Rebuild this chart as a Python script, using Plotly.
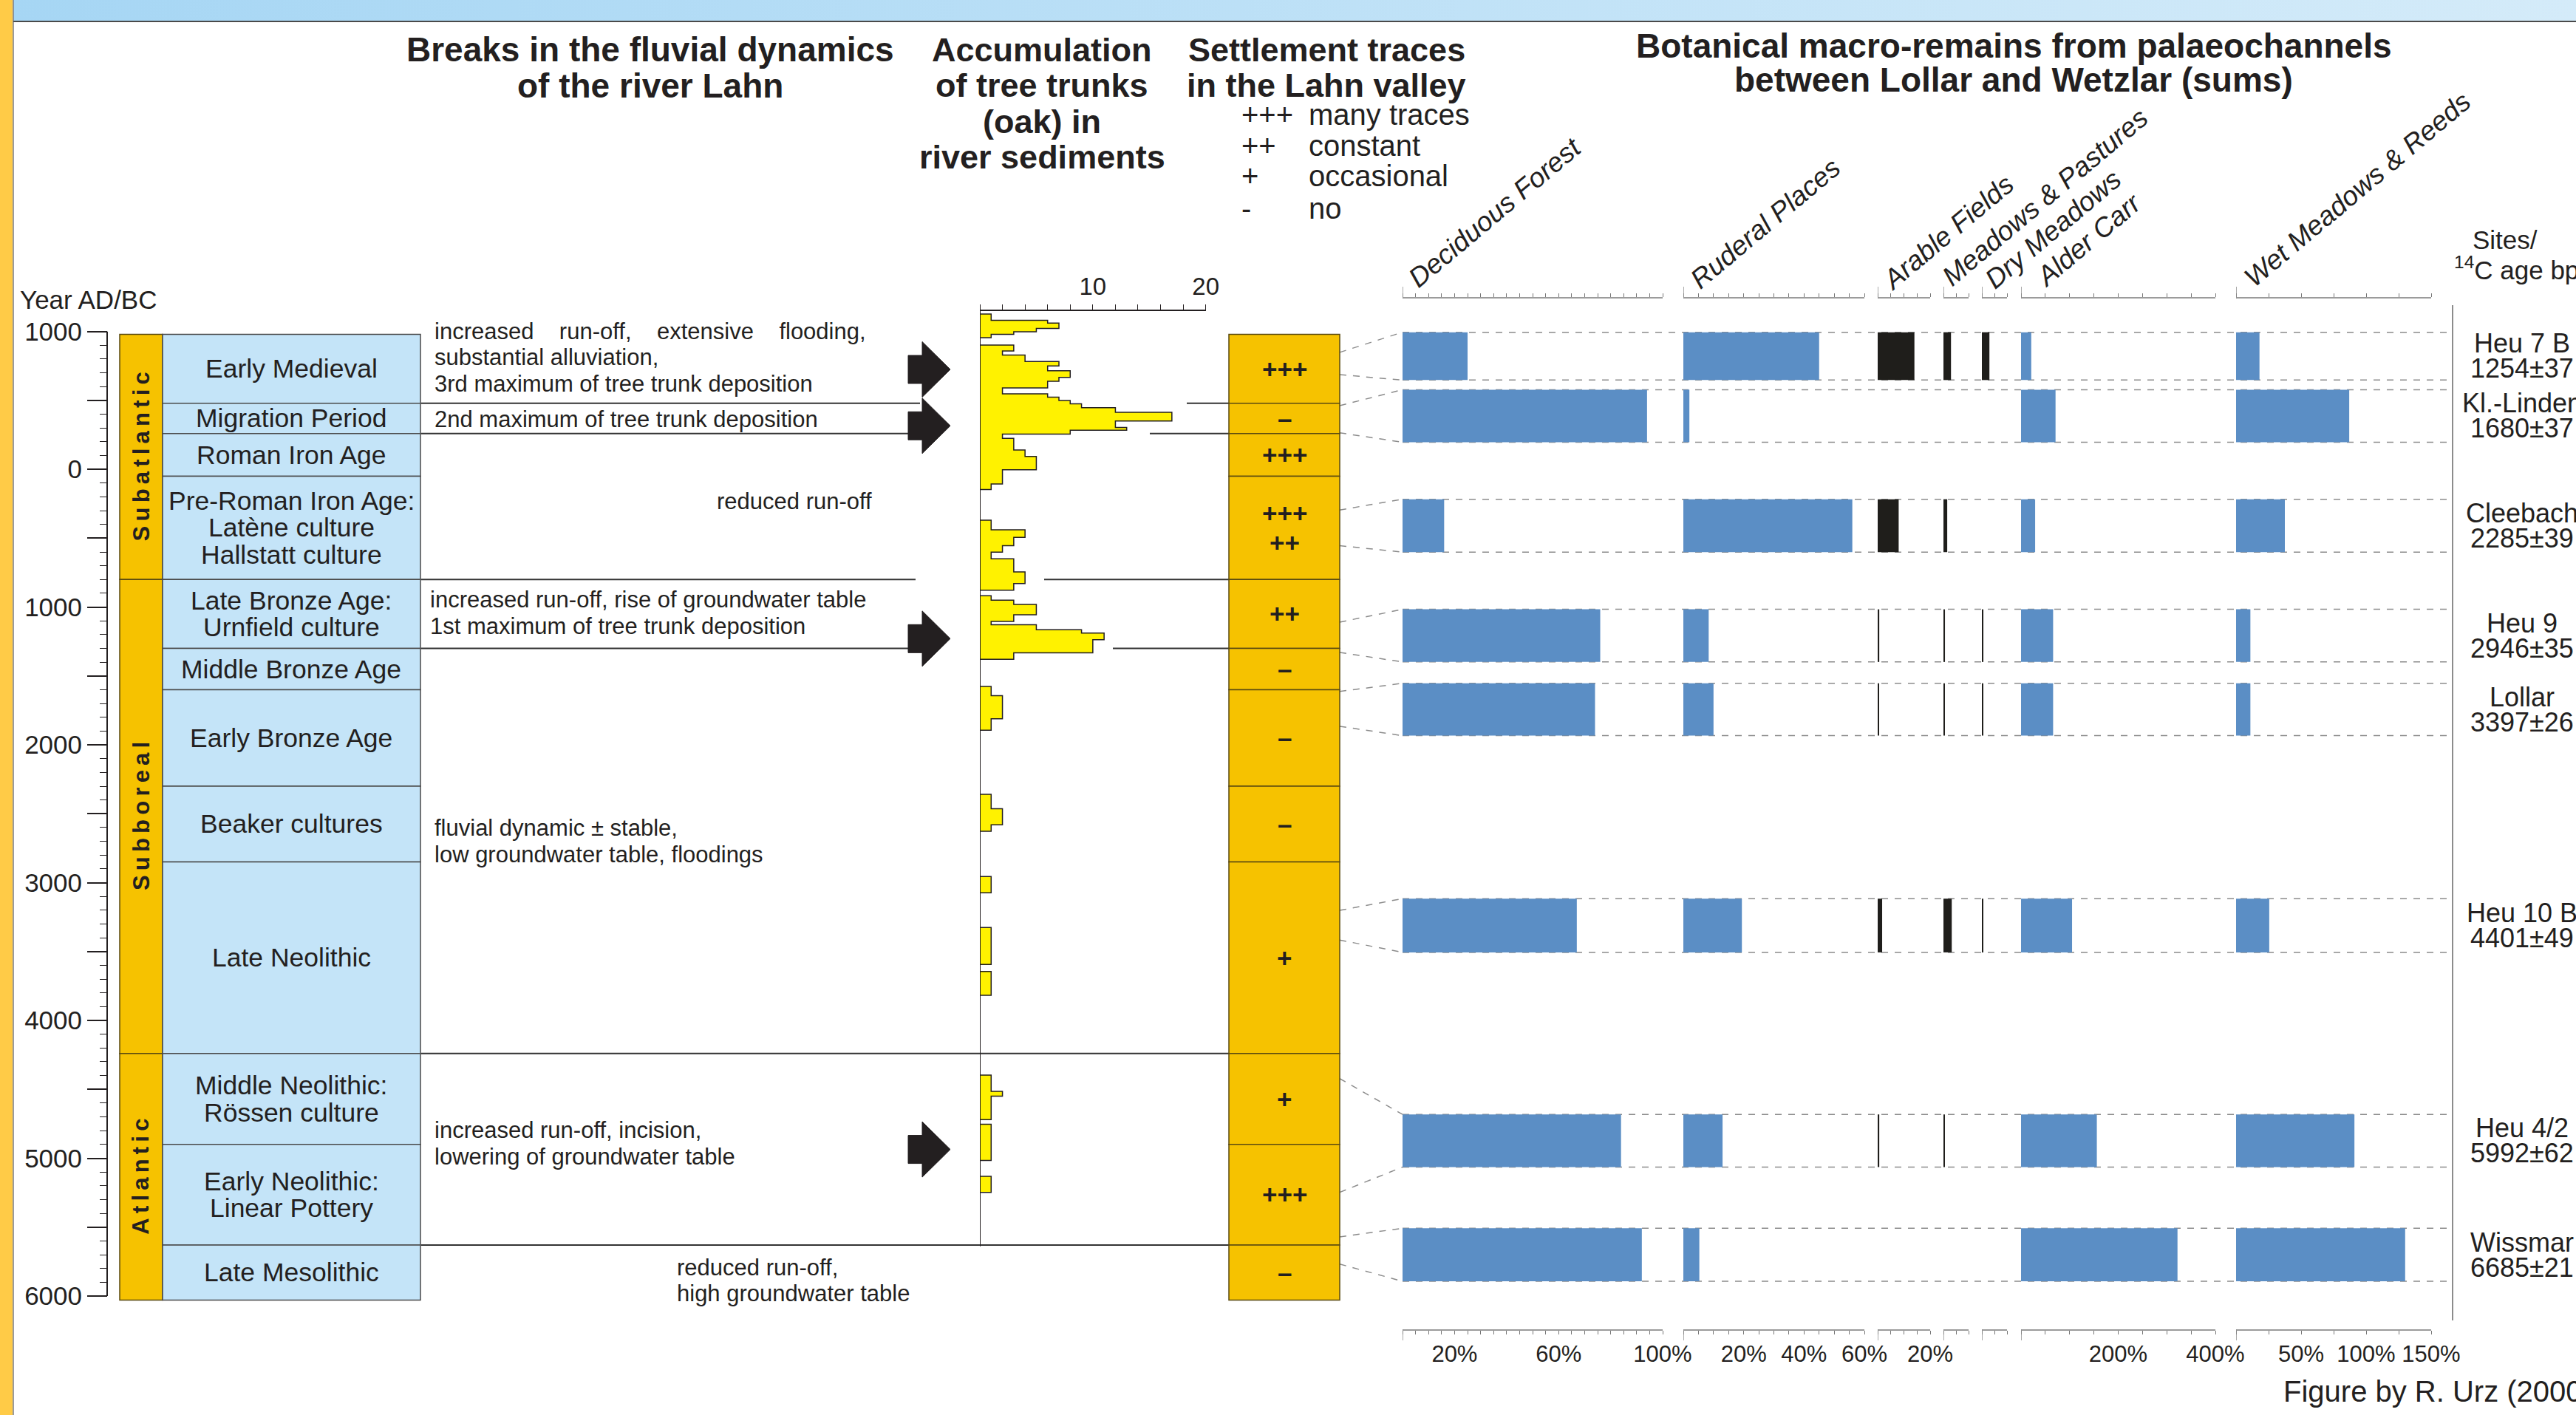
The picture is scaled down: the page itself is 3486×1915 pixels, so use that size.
import plotly.graph_objects as go

W, H = 3486, 1915
FONT = "Liberation Sans, Arial, Helvetica, sans-serif"
INK = "#231F20"
BLUE_BAR = "#5B8EC5"
DARK_BAR = "#1F1E1B"
ORANGE = "#F6C200"
PALE_BLUE = "#C4E4F8"
TRUNK_YELLOW = "#FFF200"

# ------------------------------------------------------------------ data
year_major = [1000, 500, 0, -500, -1000, -1500, -2000, -2500, -3000, -3500,
              -4000, -4500, -5000, -5500, -6000]
year_major_labels = ["1000", "", "0", "", "1000", "", "2000", "", "3000", "",
                     "4000", "", "5000", "", "6000"]

epochs = ["Subatlantic", "Subboreal", "Atlantic"]
epoch_bounds = [980, -800, -4240, -6030]

periods = ["Early Medieval", "Migration Period", "Roman Iron Age",
           "Pre-Roman Iron Age:\nLatène culture\nHallstatt culture",
           "Late Bronze Age:\nUrnfield culture", "Middle Bronze Age",
           "Early Bronze Age", "Beaker cultures", "Late Neolithic",
           "Middle Neolithic:\nRössen culture",
           "Early Neolithic:\nLinear Pottery", "Late Mesolithic"]
period_bounds = [980, 480, 260, -50, -800, -1300, -1600, -2300, -2850,
                 -4240, -4900, -5630, -6030]

settlement_marks = ["+++", "–", "+++", "+++\n++", "++", "–", "–", "–",
                    "+", "+", "+++", "–"]
settlement_bounds = [980, 480, 260, -50, -800, -1300, -1600, -2300, -2850,
                     -4240, -4900, -5630, -6030]
settlement_legend_symbols = ["+++", "++", "+", "-"]
settlement_legend_texts = ["many traces", "constant", "occasional", "no"]

break_years = [480, 260, -800, -1300, -4240, -5630]
arrow_years = [725, 316, -1229, -4936]
GAP = "\u00a0" * 4
break_notes = [f"increased{GAP}run-off,{GAP}extensive{GAP}flooding,\nsubstantial alluviation,\n3rd maximum of tree trunk deposition",
               "2nd maximum of tree trunk deposition",
               "reduced run-off",
               "increased run-off, rise of groundwater table\n1st maximum of tree trunk deposition",
               "fluvial dynamic ± stable,\nlow groundwater table, floodings",
               "increased run-off, incision,\nlowering of groundwater table",
               "reduced run-off,\nhigh groundwater table"]
break_note_years = [813, 361, -230, -1042, -2699, -4893, -5888]

# oak trunks (counts) per time slice
trunk_top = [1127, 1082, 1062, 1022, 998, 979,
             902, 859, 830, 782, 751, 715, 667, 639, 591, 548, 524, 500, 476,
             447, 414, 351, 304, 284, 256, 225, 141, 93, -3, -106,
             -369, -439, -494, -554, -601, -649, -745, -829,
             -917, -949, -980, -1056, -1104, -1128, -1164, -1188, -1236, -1332,
             -1576, -1643, -1810,
             -2359, -2463, -2580,
             -2955, -3325, -3645,
             -4397, -4515, -4550,
             -4753, -5131]
trunk_bottom = [1082, 1062, 1022, 998, 979, 955,
                859, 830, 782, 751, 715, 667, 639, 591, 548, 524, 500, 476, 447,
                414, 351, 304, 284, 256, 225, 141, 93, -3, -106, -146,
                -439, -494, -554, -601, -649, -745, -829, -877,
                -949, -980, -1056, -1104, -1128, -1164, -1188, -1236, -1332, -1379,
                -1643, -1810, -1894,
                -2463, -2580, -2627,
                -3073, -3593, -3817,
                -4515, -4550, -4720,
                -5016, -5248]
trunk_count = [1, 6, 7, 5, 3, 1,
               3, 2, 4, 7, 6, 8, 7, 6, 2, 6, 7, 8, 9, 12, 17, 12, 13, 8, 2, 3, 4, 5, 2, 1,
               1, 4, 3, 2, 1, 3, 4, 3,
               1, 3, 5, 3, 1, 5, 9, 11, 10, 3,
               1, 2, 1,
               1, 2, 1,
               1, 1, 1,
               1, 2, 1,
               1, 1]
trunk_ticks = [0, 2, 4, 6, 8, 10, 12, 14, 16, 18, 20]
trunk_tick_labels = ["", "", "", "", "", "10", "", "", "", "", "20"]

sites = ["Heu 7 B", "Kl.-Linden", "Cleebach", "Heu 9", "Lollar",
         "Heu 10 B", "Heu 4/2", "Wissmar"]
c14_ages = ["1254±37", "1680±37", "2285±39", "2946±35", "3397±26",
            "4401±49", "5992±62", "6685±21"]
band_top = [995, 578, -217, -1016, -1553, -3116, -4682, -5508]
band_bottom = [648, 197, -601, -1398, -1933, -3506, -5064, -5893]
cal_top = [849, 462, -295, -1109, -1612, -3201, -4422, -5571]
cal_bottom = [687, 265, -554, -1329, -1865, -3416, -5247, -5768]

deciduous_forest = [25, 94, 16, 76, 74, 67, 84, 92]
ruderal_places = [45, 2, 56, 8.4, 10, 19.4, 13, 5.3]
arable_fields = [14, 0, 8, 0.6, 0.5, 1.7, 0.6, 0]
meadows_pastures = [3, 0, 1.5, 0.6, 0.5, 3.3, 0.5, 0]
dry_meadows = [3, 0, 0, 0.6, 0.5, 0.5, 0, 0]
alder_carr = [21, 71, 29, 66, 66, 105, 156, 322]
wet_meadows_reeds = [18, 87, 37.5, 11, 11, 25.5, 91, 130]

panel_names = ["Deciduous Forest", "Ruderal Places", "Arable Fields",
               "Meadows & Pastures", "Dry Meadows", "Alder Carr",
               "Wet Meadows & Reeds"]
panel_values = [deciduous_forest, ruderal_places, arable_fields,
                meadows_pastures, dry_meadows, alder_carr, wet_meadows_reeds]
panel_max = [100, 60, 20, 10, 10, 400, 150]
panel_tick_step = [5, 5, 5, 5, 5, 50, 25]
panel_labelled = [[20, 60, 100], [20, 40, 60], [20], [], [], [200, 400],
                  [50, 100, 150]]

# ------------------------------------------------------------------ layout helpers
YEAR_REF, PX_REF, PX_PER_YEAR = 1000, 448.7, 0.18647


def px_to_year(p):
    return YEAR_REF - (p - PX_REF) / PX_PER_YEAR


def pyp(p):
    return 1 - p / H


def pxp(p):
    return p / W


shapes = []
annotations = []


def add_text(s, x, y, size, xref="paper", yref="paper", xanchor="center",
             yanchor="middle", bold=False, italic=False, angle=0, color=INK,
             spacing=None):
    lines = s.split("\n")
    n = len(lines)
    sp = spacing if spacing is not None else size * 1.1
    for i, ln in enumerate(lines):
        t = ln
        if bold:
            t = f"<b>{t}</b>"
        if italic:
            t = f"<i>{t}</i>"
        annotations.append(dict(text=t, x=x, y=y, xref=xref, yref=yref,
                                xanchor=xanchor, yanchor=yanchor,
                                showarrow=False, textangle=angle,
                                yshift=((n - 1) / 2 - i) * sp,
                                font=dict(family=FONT, size=size, color=color)))


def text_px(s, xp, ypx, size, **kw):
    add_text(s, pxp(xp), pyp(ypx), size, **kw)


def rect(x0, x1, y0, y1, fill, line="#4a4a4a", lw=1.5, xref="x", yref="y",
         layer="above"):
    shapes.append(dict(type="rect", xref=xref, yref=yref, x0=x0, x1=x1,
                       y0=y0, y1=y1, fillcolor=fill, layer=layer,
                       line=dict(color=line, width=lw)))


def line(x0, y0, x1, y1, color=INK, lw=2, dash="solid", xref="x", yref="y",
         layer="above"):
    shapes.append(dict(type="line", xref=xref, yref=yref, x0=x0, y0=y0,
                       x1=x1, y1=y1, layer=layer,
                       line=dict(color=color, width=lw, dash=dash)))


fig = go.Figure()

# ------------------------------------------------------------------ frame / banner
fig.add_trace(go.Scatter(
    x=[18, W, W, 18, 18],
    y=[px_to_year(0), px_to_year(0), px_to_year(29), px_to_year(29), px_to_year(0)],
    mode="lines", fill="toself", line=dict(width=0),
    fillgradient=dict(type="horizontal",
                      colorscale=[[0, "#A6D6F4"], [1, "#D4EBF9"]]),
    hoverinfo="skip", xaxis="x", yaxis="y"))
rect(0, pxp(17), 0, 1, "#FFCB47", line="#FFCB47", lw=0, xref="paper", yref="paper")
line(pxp(18), 0, pxp(18), 1, color="#7a7a7a", lw=1.5, xref="paper", yref="paper")
line(pxp(18), pyp(29), 1, pyp(29), color="#4a4a4a", lw=2, xref="paper", yref="paper")

# ------------------------------------------------------------------ titles
text_px("Breaks in the fluvial dynamics", 880, 67, 46, bold=True)
text_px("of the river Lahn", 880, 116, 46, bold=True)
for i, t in enumerate(["Accumulation", "of tree trunks", "(oak) in", "river sediments"]):
    text_px(t, 1410, [67, 116, 165, 213][i], 45, bold=True)
text_px("Settlement traces", 1795, 67, 45, bold=True)
text_px("in the Lahn valley", 1795, 116, 45, bold=True)
text_px("Botanical macro-remains from palaeochannels", 2725, 62, 46, bold=True)
text_px("between Lollar and Wetzlar (sums)", 2725, 108, 46, bold=True)
for i, (sym, lab) in enumerate(zip(settlement_legend_symbols, settlement_legend_texts)):
    ypx = [155, 197, 238, 282][i]
    text_px(sym, 1678, ypx, 40, xanchor="left")
    text_px(lab, 1769, ypx, 40, xanchor="left")
text_px("Year AD/BC", 25, 406, 35, xanchor="left")

# ------------------------------------------------------------------ year axis line
line(145, year_major[0], 145, year_major[-1], color=INK, lw=2)

# ------------------------------------------------------------------ epochs & periods
for i, name in enumerate(epochs):
    top, bot = epoch_bounds[i], epoch_bounds[i + 1]
    rect(162, 220, top, bot, ORANGE, line="#5a4a10")
    add_text("\u2009".join(name), 191, (top + bot) / 2, 31, xref="x", yref="y",
             bold=True, angle=-90)

for i, name in enumerate(periods):
    top, bot = period_bounds[i], period_bounds[i + 1]
    rect(220, 569, top, bot, PALE_BLUE, line="#4a4a4a")
    add_text(name, 394, (top + bot) / 2, 35.5, xref="x", yref="y", spacing=36.5)

# ------------------------------------------------------------------ breaks column
break_left_end = [1245, 1245, 1239, 1230, 1663, 1663]
break_right_start = [1606, 1556, 1413, 1506, None, None]
for yv, xe, xs in zip(break_years, break_left_end, break_right_start):
    line(570, yv, xe, yv, color="#333333", lw=2)
    if xs is not None:
        line(xs, yv, 1663, yv, color="#333333", lw=2)

body_half = 19 / PX_PER_YEAR
head_half = 37.5 / PX_PER_YEAR
for a in arrow_years:
    path = (f"M 1229,{a + body_half} L 1248,{a + body_half} L 1248,{a + head_half} "
            f"L 1286,{a} L 1248,{a - head_half} L 1248,{a - body_half} "
            f"L 1229,{a - body_half} Z")
    shapes.append(dict(type="path", xref="x", yref="y", path=path,
                       fillcolor=INK, line=dict(color=INK, width=1)))

note_x = [586, 586, 1075, 580, 586, 586, 914]
note_anchor = ["left", "left", "center", "left", "left", "left", "left"]
for s, yv, xp, xa in zip(break_notes, break_note_years, note_x, note_anchor):
    add_text(s, xp, yv, 31, xref="x", yref="y", xanchor=xa, spacing=35.5)

# ------------------------------------------------------------------ tree trunk histogram
hx, hy = [], []
prev = None
for t, b, c in zip(trunk_top, trunk_bottom, trunk_count):
    if prev is None or t != prev:
        if prev is not None:
            hx += [0, None]
            hy += [prev, None]
        hx.append(0)
        hy.append(t)
    hx += [c, c]
    hy += [t, b]
    prev = b
hx.append(0)
hy.append(prev)
fig.add_trace(go.Scatter(x=hx, y=hy, mode="lines", fill="toself",
                         fillcolor=TRUNK_YELLOW, line=dict(color=INK, width=1.5),
                         hoverinfo="skip", xaxis="x2", yaxis="y"))
line(0, px_to_year(420), 0, -5640, color=INK, lw=2, xref="x2")

# ------------------------------------------------------------------ settlement column
for i, mark in enumerate(settlement_marks):
    top, bot = settlement_bounds[i], settlement_bounds[i + 1]
    rect(1663, 1813, top, bot, ORANGE, line="#5a4a10")
    add_text(mark, 1738, (top + bot) / 2, 35, xref="x", yref="y", bold=True,
             spacing=40)

# ------------------------------------------------------------------ botanical panels
for k in range(len(sites)):
    for yv in (band_top[k], band_bottom[k]):
        line(1898, yv, 3316, yv, color="#8c8c8c", lw=1.5, dash="dash", layer="below")
    line(1813, cal_top[k], 1898, band_top[k], color="#8c8c8c", lw=1.5, dash="dash",
         layer="below")
    line(1813, cal_bottom[k], 1898, band_bottom[k], color="#8c8c8c", lw=1.5,
         dash="dash", layer="below")

band_center = [(t + b) / 2 for t, b in zip(band_top, band_bottom)]
band_height = [t - b for t, b in zip(band_top, band_bottom)]

panel_domains = [(1898, 2250), (2278, 2523), (2541, 2612), (2630, 2664),
                 (2682, 2716), (2735, 2998), (3026, 3290)]
panel_colors = [BLUE_BAR, BLUE_BAR, DARK_BAR, DARK_BAR, DARK_BAR, BLUE_BAR, BLUE_BAR]
header_centers = [(2023, 287), (2389, 303), (2636, 314), (2768, 267),
                  (2778, 310), (2827, 325), (3190, 256)]

layout_axes = {}
for j, name in enumerate(panel_names):
    ax = j + 3
    fig.add_trace(go.Bar(orientation="h", x=panel_values[j], y=band_center,
                         width=band_height, base=0,
                         marker=dict(color=panel_colors[j], line=dict(width=0)),
                         hoverinfo="skip", xaxis=f"x{ax}", yaxis="y2"))
    step = panel_tick_step[j]
    tv = list(range(0, panel_max[j] + 1, step))
    tt = [f"{v}%" if v in panel_labelled[j] else "" for v in tv]
    d0, d1 = panel_domains[j]
    layout_axes[f"xaxis{ax}"] = dict(
        domain=[pxp(d0), pxp(d1)], range=[0, panel_max[j]], anchor="y2",
        showline=True, mirror="ticks", linecolor="#9b9b9b", linewidth=2,
        ticks="outside", ticklen=5, tickwidth=1.2, tickcolor="#777777",
        tickvals=tv, ticktext=tt, showgrid=False, zeroline=False,
        automargin=False,
        tickfont=dict(family=FONT, size=31, color=INK))
    line(0, pyp(404), 0, pyp(388), color="#8c8c8c", lw=1.5, xref=f"x{ax}", yref="paper")
    line(0, pyp(1799), 0, pyp(1814), color="#8c8c8c", lw=1.5, xref=f"x{ax}", yref="paper")
    cx, cy = header_centers[j]
    text_px(name, cx, cy, 37, italic=True, angle=-40)

line(3319, px_to_year(413), 3319, px_to_year(1787), color="#8c8c8c", lw=2)
text_px("Sites/", 3390, 325, 35)
text_px("<sup>14</sup>C age bp", 3319, 363, 35, xanchor="left")
for k in range(len(sites)):
    add_text(sites[k] + "\n" + c14_ages[k], 3413, band_center[k], 36,
             xref="x", yref="y", spacing=34)

text_px("Figure by R. Urz (2000)", 3088, 1883, 40, xanchor="left")

# ------------------------------------------------------------------ layout
minor_vals = [v for v in range(1000, -6001, -100) if v % 500 != 0]
fig.update_layout(
    width=W, height=H, autosize=False,
    margin=dict(l=0, r=0, t=0, b=0, pad=0, autoexpand=False),
    paper_bgcolor="white", plot_bgcolor="rgba(0,0,0,0)", showlegend=False,
    barmode="overlay", font=dict(family=FONT, color=INK),
    xaxis=dict(range=[0, W], domain=[0, 1], visible=False, anchor="y",
               automargin=False),
    yaxis=dict(range=[px_to_year(H), px_to_year(0)], domain=[0, 1],
               anchor="free", position=pxp(145), showgrid=False,
               zeroline=False, showline=False, ticks="outside", ticklen=27,
               tickwidth=1.5, tickcolor=INK, tickvals=year_major,
               ticktext=year_major_labels, automargin=False,
               tickfont=dict(family=FONT, size=35, color=INK),
               minor=dict(tickmode="array", tickvals=minor_vals, ticklen=10,
                          tickwidth=1.2, tickcolor=INK, ticks="outside")),
    xaxis2=dict(domain=[pxp(1326), pxp(1631.7)], range=[0, 20], anchor="free",
                position=pyp(420), side="top", showline=True, linecolor=INK,
                linewidth=1.5, ticks="outside", ticklen=7, tickwidth=1.2,
                tickcolor=INK, tickvals=trunk_ticks, ticktext=trunk_tick_labels,
                showgrid=False, zeroline=False, automargin=False,
                tickfont=dict(family=FONT, size=33, color=INK)),
    yaxis2=dict(domain=[pyp(1799), pyp(404)],
                range=[px_to_year(1799), px_to_year(404)],
                anchor="free", position=0, visible=False),
    shapes=shapes, annotations=annotations,
    **layout_axes)

fig.write_html(
    "out.html",
    config={"responsive": False},
    post_script="document.body.style.margin='0';document.body.style.overflow='hidden';",
)
